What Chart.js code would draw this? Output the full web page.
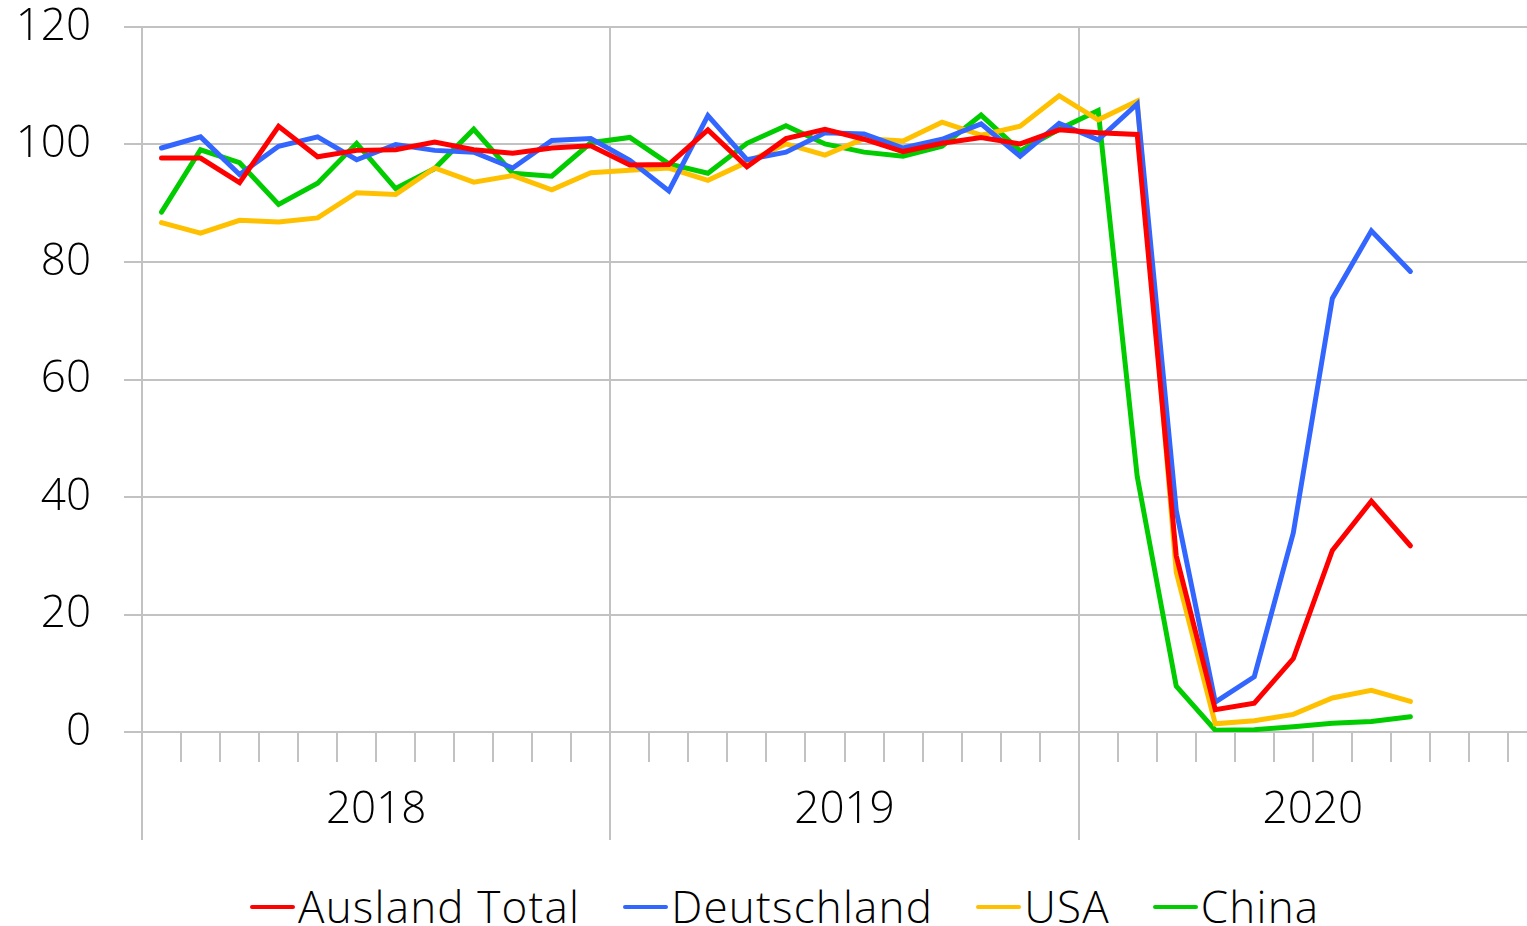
<!DOCTYPE html>
<html>
<head>
<meta charset="utf-8">
<script src="https://cdn.jsdelivr.net/npm/chart.js@4"></script>
<style>
  html, body { margin: 0; padding: 0; background: #fff; overflow: hidden; width: 1527px; height: 926px; }
  #wrap { position: absolute; left: 0; top: 0; width: 1547px; height: 870px; }
  #legend { position: absolute; left: 250px; top: 877px; display: flex; align-items: center;
            font-family: 'Open Sans', sans-serif; font-weight: 300; font-size: 44px; line-height: 1.36;
            letter-spacing: 1.2px; color: #000; white-space: nowrap; }
  .item { display: flex; align-items: center; margin-right: 43px; }
  .swatch { width: 45px; height: 4.5px; border-radius: 2.5px; margin-right: 3px; }
</style>
</head>
<body>
<div id="wrap"><canvas id="chart"></canvas></div>
<div id="legend"></div>
<script>
const years = ['2018', '2019', '2020']
const monthNames = ['Jan', 'Feb', 'Mär', 'Apr', 'Mai', 'Jun', 'Jul', 'Aug', 'Sep', 'Okt', 'Nov', 'Dez']
const seriesNames = ['Ausland Total', 'Deutschland', 'USA', 'China']
const seriesColors = ['#ff0000', '#3366ff', '#ffc000', '#00cc00']

// monthly index values, Jan 2018 - Sep 2020
const auslandTotal = [
  97.7, 97.7, 93.5, 103.1, 97.9, 99.0, 99.1, 100.4, 99.1, 98.5, 99.4, 99.8,
  96.5, 96.6, 102.5, 96.2, 101.0, 102.6, 100.9, 98.8, 100.2, 101.2, 100.1, 102.5,
  102.0, 101.7, 30.0, 3.8, 4.9, 12.5, 30.9, 39.3, 31.7
]
const deutschland = [
  99.4, 101.3, 94.9, 99.7, 101.3, 97.4, 100.0, 99.0, 98.7, 96.0, 100.7, 101.0,
  97.3, 92.1, 104.9, 97.4, 98.7, 102.0, 101.8, 99.4, 100.9, 103.5, 98.0, 103.6,
  100.8, 106.9, 37.7, 5.1, 9.4, 33.9, 73.8, 85.3, 78.4
]
const usa = [
  86.7, 84.9, 87.1, 86.8, 87.5, 91.8, 91.5, 96.0, 93.6, 94.7, 92.3, 95.2,
  95.6, 96.0, 93.9, 97.0, 100.1, 98.2, 101.0, 100.6, 103.8, 101.6, 103.1, 108.3,
  104.2, 107.4, 27.2, 1.4, 1.9, 3.0, 5.8, 7.1, 5.2
]
const china = [
  88.5, 99.1, 96.9, 89.8, 93.4, 100.2, 92.5, 95.9, 102.6, 95.1, 94.6, 100.3,
  101.2, 96.7, 95.1, 100.2, 103.2, 100.1, 98.7, 98.0, 99.7, 105.0, 98.9, 102.6,
  105.8, 43.5, 7.8, 0.3, 0.4, 0.9, 1.5, 1.8, 2.6
]

const seriesData = [auslandTotal, deutschland, usa, china]
const gridColor = '#c2c2c2'
const axisFont = { family: "'Open Sans', sans-serif", weight: 300, size: 44 }

const labels = []
years.forEach(y => monthNames.forEach(m => labels.push(m + ' ' + y)))

const datasets = seriesNames.map((name, i) => ({
  label: name,
  data: seriesData[i],
  borderColor: seriesColors[i],
  backgroundColor: seriesColors[i],
  borderWidth: 5,
  borderCapStyle: 'round',
  pointRadius: 0,
  tension: 0,
  fill: false
}))

new Chart(document.getElementById('chart'), {
  type: 'line',
  data: { labels, datasets },
  options: {
    responsive: true,
    maintainAspectRatio: false,
    animation: false,
    layout: { padding: { top: 27, left: 0, right: 0, bottom: 0 } },
    plugins: { legend: { display: false }, tooltip: { enabled: false } },
    scales: {
      x: {
        type: 'category',
        offset: true,
        grid: {
          offset: true,
          color: ctx => (ctx.index % 12 === 0 ? gridColor : 'rgba(0,0,0,0)'),
          tickColor: gridColor,
          tickLength: 30,
          lineWidth: 2
        },
        border: { display: false },
        ticks: { display: false }
      },
      x2: {
        type: 'category',
        labels: years,
        position: 'bottom',
        offset: true,
        grid: { offset: true, drawOnChartArea: false, color: gridColor, tickLength: 78, lineWidth: 2 },
        border: { display: false },
        ticks: { font: axisFont, color: '#000', padding: -56, maxRotation: 0, autoSkip: false },
        afterFit: s => { s.height = 108 }
      },
      y: {
        min: 0,
        max: 120,
        ticks: { stepSize: 20, font: axisFont, color: '#000', padding: 33 },
        grid: { color: gridColor, tickLength: 18, lineWidth: 2 },
        border: { display: false },
        afterFit: s => { s.width = 142; s.paddingTop = 0; s.paddingBottom = 0 }
      }
    }
  }
})

// legend built from the same names / colours
const legend = document.getElementById('legend')
seriesNames.forEach((name, i) => {
  const item = document.createElement('div')
  item.className = 'item'
  const sw = document.createElement('span')
  sw.className = 'swatch'
  sw.style.background = seriesColors[i]
  const txt = document.createElement('span')
  txt.textContent = name
  item.appendChild(sw)
  item.appendChild(txt)
  legend.appendChild(item)
})
</script>
</body>
</html>
